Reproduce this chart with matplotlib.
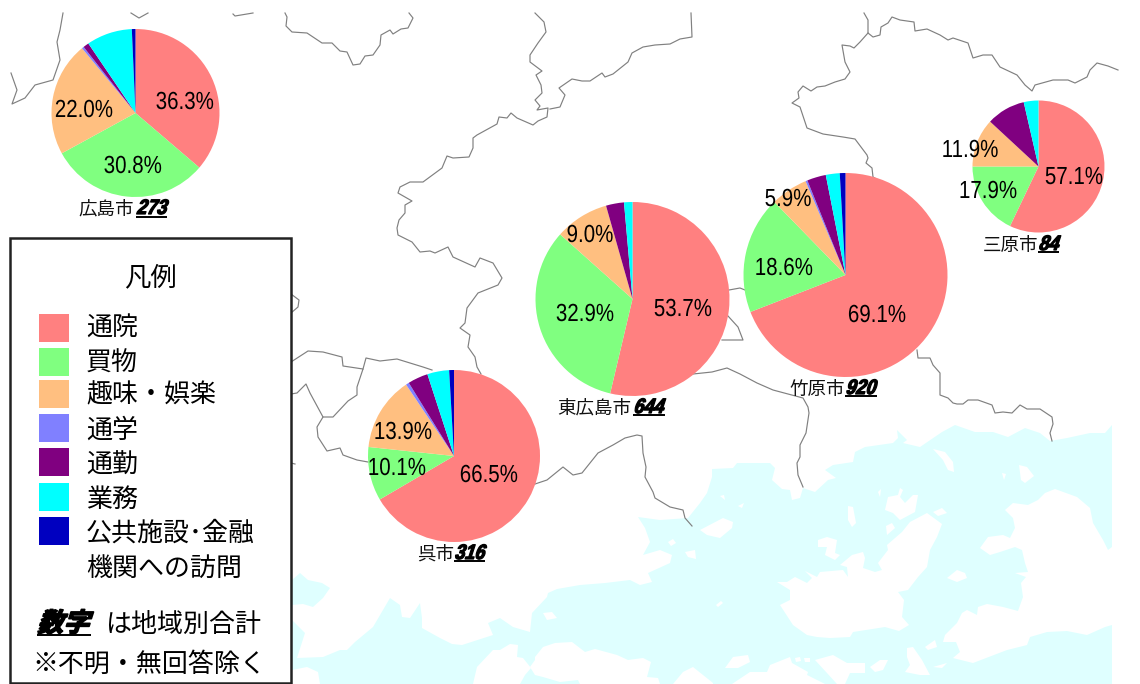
#!/usr/bin/env python3
"""Trip purpose shares by destination city, drawn as pies over a map."""

import matplotlib
matplotlib.use('Agg')
import matplotlib.pyplot as plt
from matplotlib.patches import Polygon, Rectangle
from matplotlib.patheffects import AbstractPathEffect
from matplotlib.transforms import Affine2D

WIDTH, HEIGHT = 1140, 684

JP_FONT  = ['Noto Sans CJK JP', 'DejaVu Sans']
NUM_FONT = ['Liberation Sans', 'DejaVu Sans']

# purposes, clockwise from 12 o'clock
PURPOSES = ['通院', '買物', '趣味・娯楽', '通学', '通勤', '業務', '公共施設･金融']
COLORS   = ['#FF8080', '#80FF80', '#FFBF80', '#8080FF', '#800080', '#00FFFF', '#0000C0']

HIROSHIMA = [36.3, 30.8, 22.0, 0.4, 1.1, 8.8, 0.7]
TAKEHARA  = [69.1, 18.6, 5.9, 0.3, 3.0, 2.2, 0.9]
MIHARA    = [57.1, 17.9, 11.9, 0.0, 9.5, 3.6, 0.0]
HIGASHI   = [53.7, 32.9, 9.0, 0.0, 3.0, 1.4, 0.0]
KURE      = [66.5, 10.1, 13.9, 0.6, 3.8, 4.1, 0.9]

CITY_NAMES  = ['広島市', '竹原市', '三原市', '東広島市', '呉市']
CITY_TOTALS = ['273', '920', '84', '644', '316']

# layout in picture pixels: pie centre x, y, radius
PIE_SPOTS = [(135.5, 113, 84), (845.5, 275, 102), (1038.5, 166.5, 66),
             (632.5, 299, 97), (454, 456, 86)]
# city name left, number left, number right, text centre y, underline y
NAME_SPOTS = [(78, 136, 167, 208, 216.5), (789, 845, 877, 388, 396),
              (983, 1038, 1059, 244, 252), (557, 633, 665, 407, 415),
              (417, 454, 485, 553, 561)]
# the three printed shares of each pie
PCT_SPOTS = [[(185, 100), (133, 164), (84, 108)],
             [(877, 313), (784, 266), (788, 197)],
             [(1074, 175), (988, 189), (970, 148)],
             [(683, 307), (585, 312), (590, 233)],
             [(489, 473), (397, 466), (403, 430)]]

# municipal borders, in pixels
BORDERS = [
    [(285, 13), (287, 17), (286, 26), (292, 32), (307, 33), (322, 43), (332, 43), (340, 51),
     (347, 52), (353, 65), (360, 64), (365, 56), (373, 55), (380, 45), (381, 35), (390, 30),
     (393, 34), (401, 29), (408, 28), (413, 18), (409, 13)],
    [(535, 13), (544, 22), (546, 32), (538, 43), (530, 55), (530, 62), (542, 71), (536, 75),
     (541, 85), (542, 93), (535, 100), (540, 106), (537, 110), (548, 108), (547, 117), (538, 121),
     (533, 125), (517, 118), (511, 113), (507, 118), (499, 117), (497, 124), (477, 135), (473, 138),
     (473, 148), (469, 157), (453, 158), (447, 156), (442, 168), (423, 182), (410, 182), (400, 187),
     (398, 193), (412, 201), (405, 205), (405, 213), (399, 220), (397, 228), (398, 235), (412, 242),
     (420, 252), (430, 251), (435, 253), (448, 247), (453, 257), (475, 267), (480, 258), (493, 263),
     (502, 278), (498, 285), (478, 293), (467, 308), (465, 323), (460, 328), (470, 335), (468, 347),
     (475, 357), (477, 367), (481, 374)],
    [(550, 109), (560, 107), (565, 95), (559, 88), (572, 79), (582, 81), (590, 81), (602, 73),
     (605, 77), (613, 74), (628, 62), (632, 53), (643, 47), (655, 45), (670, 44), (680, 39),
     (692, 37), (691, 13)],
    [(864, 13), (868, 20), (868, 33), (873, 37), (880, 35), (881, 27), (888, 23), (892, 17),
     (900, 20), (914, 22), (915, 31), (927, 29), (940, 35), (948, 40), (953, 38), (968, 43),
     (973, 58), (983, 55), (992, 55), (1000, 67), (1017, 75), (1025, 85), (1032, 91), (1035, 85),
     (1053, 80), (1068, 80), (1075, 83), (1087, 77), (1090, 70), (1097, 63), (1108, 66), (1118, 70)],
    [(868, 33), (860, 42), (854, 48), (850, 46), (842, 45), (845, 62), (850, 72), (845, 79),
     (835, 82), (825, 86), (817, 87), (811, 91), (803, 86), (798, 92), (799, 98), (792, 103),
     (800, 107), (807, 128), (823, 134), (843, 137), (855, 139), (867, 155), (868, 158), (866, 163),
     (872, 168), (873, 177), (878, 180)],
    [(917, 350), (918, 358), (930, 358), (933, 365), (940, 373), (940, 395), (948, 398), (953, 403),
     (957, 404), (963, 404), (968, 400), (978, 400), (992, 405), (995, 413), (1003, 412), (1012, 413),
     (1020, 405), (1027, 409), (1040, 409), (1052, 417), (1053, 424), (1050, 433), (1052, 441)],
    [(693, 374), (712, 372), (727, 368), (740, 374), (757, 383), (773, 390), (803, 398), (808, 407),
     (809, 413), (806, 433), (800, 445), (800, 457), (797, 463), (798, 475), (803, 487)],
    [(729, 290), (740, 288), (750, 292)],
    [(728, 316), (738, 327), (743, 340), (722, 340)],
    [(535, 484), (547, 480), (563, 467), (573, 475), (582, 473), (590, 463), (598, 453), (613, 445),
     (625, 438), (637, 435), (642, 436), (643, 453), (646, 467), (645, 477), (653, 492), (655, 498),
     (670, 507), (683, 510), (685, 518), (692, 526)],
    [(291, 362), (308, 351), (323, 352), (342, 357), (343, 366), (363, 369), (357, 387), (357, 395),
     (348, 401), (333, 417), (323, 417)],
    [(363, 369), (366, 358), (380, 361), (397, 359), (423, 367), (432, 370)],
    [(291, 394), (297, 393), (306, 384), (310, 393), (323, 417), (317, 427), (318, 437), (327, 451),
     (340, 448), (343, 455), (357, 460), (368, 462)],
    [(291, 294), (299, 300), (298, 307), (291, 313)],
    [(291, 463), (295, 464)],
    [(63, 13), (60, 30), (57, 42), (60, 60), (53, 80), (35, 85), (25, 98), (12, 104), (17, 90), (11, 73)],
    [(131, 13), (139, 18), (148, 13)],
    [(233, 14), (235, 16), (253, 13)],
]

SEA = [
    (292, 620), (305, 633), (297, 658), (323, 657), (340, 650), (347, 650), (355, 642), (373, 627),
    (390, 598), (400, 605), (402, 617), (410, 618), (420, 603), (422, 618), (422, 628), (440, 638),
    (452, 644), (462, 645), (493, 635), (488, 623), (500, 618), (513, 627), (530, 632), (532, 613),
    (547, 597), (548, 593), (557, 589), (580, 585), (605, 583), (630, 580), (640, 585), (652, 582),
    (648, 573), (670, 563), (672, 555), (660, 550), (643, 555), (650, 542), (645, 528), (638, 517),
    (660, 520), (688, 518), (700, 503), (707, 493), (712, 477), (712, 469), (733, 468), (737, 463),
    (770, 463), (775, 468), (772, 480), (782, 489), (790, 490), (792, 500), (800, 498), (803, 488),
    (815, 492), (828, 480), (836, 478), (825, 470), (833, 465), (853, 462), (855, 452), (865, 447),
    (893, 443), (898, 438), (897, 430), (907, 440), (903, 443), (920, 447), (942, 432), (955, 425),
    (975, 432), (993, 432), (1008, 437), (1025, 428), (1040, 433), (1050, 441), (1067, 438),
    (1090, 433), (1105, 433), (1112, 425), (1112, 684), (292, 684),
]
SEA_BAY = [(292, 580), (300, 573), (308, 580), (322, 583), (330, 588), (323, 598), (313, 607),
           (303, 604), (292, 605)]

ISLANDS = [
    [(777, 582), (787, 582), (795, 577), (807, 583), (812, 578), (805, 571), (817, 577), (820, 572),
     (843, 570), (848, 577), (847, 567), (840, 565), (852, 555), (863, 552), (865, 558), (863, 568),
     (875, 572), (882, 570), (878, 563), (888, 550), (887, 545), (902, 532), (910, 522), (927, 513),
     (942, 524), (937, 537), (930, 550), (927, 567), (918, 577), (908, 590), (898, 592), (904, 600),
     (902, 617), (909, 625), (899, 631), (885, 627), (853, 632), (850, 637), (830, 638), (817, 637),
     (807, 635), (793, 625), (780, 605), (790, 600), (790, 590)],
    [(1005, 510), (1013, 503), (1028, 505), (1038, 500), (1045, 493), (1055, 489), (1077, 497),
     (1090, 508), (1093, 523), (1103, 540), (1108, 550), (1112, 547), (1112, 625), (1105, 627),
     (1087, 635), (1067, 631), (1047, 632), (1030, 637), (1027, 645), (1007, 650), (973, 663),
     (953, 658), (960, 652), (956, 642), (943, 642), (945, 635), (957, 623), (962, 613), (967, 610),
     (977, 615), (978, 607), (987, 604), (1003, 607), (1018, 611), (1023, 597), (1021, 583),
     (1026, 577), (1015, 573), (1028, 572), (1025, 563), (1022, 550), (1015, 547), (1000, 552),
     (990, 555), (980, 548), (988, 537), (1003, 535), (1010, 538), (1015, 528), (1013, 518)],
    [(885, 510), (888, 497), (898, 495), (900, 488), (903, 490), (900, 497), (905, 503), (913, 495),
     (918, 495), (915, 512), (900, 520), (893, 513)],
    [(933, 512), (942, 508), (947, 513), (938, 516)],
    [(848, 506), (853, 507), (856, 523), (852, 527), (848, 520)],
    [(886, 526), (892, 523), (895, 528), (887, 535)],
    [(818, 540), (827, 537), (837, 540), (835, 553), (840, 555), (835, 560), (825, 555), (827, 547),
     (818, 547)],
    [(933, 449), (945, 452), (953, 462), (954, 472), (948, 470), (943, 460)],
    [(1019, 465), (1027, 467), (1034, 476), (1025, 483), (1021, 480)],
    [(1002, 473), (1006, 474), (1004, 480)],
    [(700, 530), (723, 518), (733, 522), (732, 528), (720, 538), (707, 535)],
    [(738, 506), (744, 503), (742, 508)],
    [(720, 496), (724, 495), (725, 500)],
    [(878, 492), (881, 489), (880, 497)],
    [(947, 578), (957, 570), (965, 573), (967, 578), (957, 582)],
    [(716, 605), (721, 601), (723, 603), (718, 607)],
    [(907, 648), (913, 647), (922, 660), (930, 675), (920, 675), (905, 672), (910, 665), (907, 657)],
    [(925, 647), (935, 640), (937, 647), (928, 650)],
    [(933, 667), (947, 663), (942, 668)],
    [(870, 667), (880, 660), (888, 660), (883, 670), (875, 672)],
    [(815, 660), (833, 655), (847, 663), (865, 663), (865, 673), (850, 673), (845, 684), (837, 684),
     (827, 673)],
    [(732, 684), (750, 672), (767, 672), (770, 665), (790, 657), (792, 663), (808, 672), (807, 675),
     (825, 684)],
    [(725, 668), (733, 657), (748, 655), (750, 662), (738, 668)],
    [(795, 658), (800, 657), (801, 661), (796, 662)],
    [(804, 658), (810, 658), (810, 662), (805, 662)],
    [(473, 684), (477, 667), (493, 650), (500, 650), (510, 644), (518, 645), (517, 657), (523, 658),
     (531, 668), (525, 675), (520, 684)],
    [(535, 657), (543, 647), (555, 643), (572, 642), (585, 652), (595, 649), (617, 655), (628, 660),
     (643, 658), (651, 662), (647, 677), (658, 678), (660, 684), (580, 684), (578, 680), (560, 682),
     (543, 677), (535, 675), (530, 667), (535, 660)],
    [(292, 670), (307, 667), (318, 672), (320, 684), (292, 684)],
    [(673, 684), (683, 672), (693, 667), (713, 683), (713, 684)],
    [(543, 613), (552, 612), (557, 618), (547, 620)],
    [(668, 542), (673, 539), (676, 543), (671, 546)],
    [(685, 552), (695, 550), (696, 559), (688, 557)],
]


class Slanted(AbstractPathEffect):
    """Fake bold italic, the CJK fonts have no oblique face."""

    def __init__(self, angle=18, bold=0.9, squeeze=1.0):
        super().__init__()
        self.angle = angle
        self.bold = bold
        self.squeeze = squeeze

    def draw_path(self, renderer, gc, tpath, affine, rgbFace=None):
        gc.set_linewidth(self.bold)
        gc.set_foreground(rgbFace)
        shape = Affine2D().scale(self.squeeze, 1).skew_deg(self.angle, 0)
        renderer.draw_path(gc, tpath, shape + affine, rgbFace)


class Squeezed(AbstractPathEffect):
    """Narrow the glyphs around the middle of the string, no narrow font here."""

    def __init__(self, squeeze):
        super().__init__()
        self.squeeze = squeeze

    def draw_path(self, renderer, gc, tpath, affine, rgbFace=None):
        xs = tpath.vertices[:, 0]
        mid = (xs.min() + xs.max()) / 2
        shape = Affine2D().translate(-mid, 0).scale(self.squeeze, 1).translate(mid, 0)
        renderer.draw_path(gc, tpath, shape + affine, rgbFace)


def up(points):
    # the axes run upwards so that pies keep their sense, the tracing runs downwards
    return [(x, HEIGHT - y) for x, y in points]


def draw_map(ax):
    ax.add_patch(Polygon(up(SEA), closed=True, fc='#DFFFFF', ec='none', zorder=1))
    ax.add_patch(Polygon(up(SEA_BAY), closed=True, fc='#DFFFFF', ec='none', zorder=1))
    for island in ISLANDS:
        ax.add_patch(Polygon(up(island), closed=True, fc='white', ec='none', zorder=2))
    for border in BORDERS:
        xs, ys = zip(*up(border))
        ax.plot(xs, ys, color='#808080', lw=0.85, zorder=3)


def draw_pie(ax, shares, spot, pct_spots):
    x, y, r = spot
    wedges, _ = ax.pie(shares, colors=COLORS, startangle=90, counterclock=False,
                       center=(x, HEIGHT - y), radius=r, wedgeprops={'linewidth': 0})
    for w in wedges:
        w.set_zorder(4)
    for val, (tx, ty) in zip(shares, pct_spots):
        ax.text(tx, HEIGHT - ty - 2, f'{val:.1f}%', family=NUM_FONT, fontsize=17.8,
                ha='center', va='center', color='black', zorder=6,
                path_effects=[Squeezed(0.83)])


def draw_name(ax, name, total, spot):
    name_x, num_x, num_end, y, line_y = spot
    ax.text(name_x, HEIGHT - y - 1.5, name, family=JP_FONT, fontsize=13.3, ha='left', va='center',
            color='#111111', zorder=6)
    ax.text(num_x, HEIGHT - y - 0.5, total, family=NUM_FONT, fontsize=15, fontweight='bold',
            ha='left', va='center', color='black', zorder=6, path_effects=[Slanted(squeeze=0.86)])
    ax.plot([num_x, num_end], [HEIGHT - line_y] * 2, color='black', lw=1.4, zorder=6,
            solid_capstyle='butt')


def draw_legend(ax):
    ax.add_patch(Rectangle((10, HEIGHT - 683), 281, 445, fc='white', ec='#222222', lw=1.8, zorder=7))
    ax.text(150, HEIGHT - 278, '凡例', family=JP_FONT, fontsize=19, ha='center', va='center', zorder=8)

    box_tops = [314, 348, 380, 414, 448, 483, 517]
    text_ys  = [328, 363, 395, 430, 465, 499, 533]
    for name, color, top, ty in zip(PURPOSES, COLORS, box_tops, text_ys):
        ax.add_patch(Rectangle((39, HEIGHT - top - 28), 30, 28, fc=color, ec='none', zorder=8))
        ax.text(86, HEIGHT - ty, name, family=JP_FONT, fontsize=18.7, ha='left', va='center', zorder=8)
    ax.text(86, HEIGHT - 568, '機関への訪問', family=JP_FONT, fontsize=18.7, ha='left', va='center', zorder=8)

    ax.text(37, HEIGHT - 624, '数字', family=JP_FONT, fontsize=18.7, fontweight='bold', ha='left',
            va='center', zorder=8, path_effects=[Slanted(bold=1.2)])
    ax.plot([37, 91], [HEIGHT - 635] * 2, color='black', lw=1.4, zorder=8, solid_capstyle='butt')
    ax.text(105, HEIGHT - 624, 'は地域別合計', family=JP_FONT, fontsize=18.7, ha='left', va='center', zorder=8)
    ax.text(32, HEIGHT - 664, '※不明・無回答除く', family=JP_FONT, fontsize=18.7, ha='left', va='center', zorder=8)


def main():
    fig = plt.figure(figsize=(WIDTH / 100, HEIGHT / 100), dpi=100)
    ax = fig.add_axes([0, 0, 1, 1])

    draw_map(ax)
    all_shares = [HIROSHIMA, TAKEHARA, MIHARA, HIGASHI, KURE]
    for shares, spot, pct_spots in zip(all_shares, PIE_SPOTS, PCT_SPOTS):
        draw_pie(ax, shares, spot, pct_spots)
    for name, total, spot in zip(CITY_NAMES, CITY_TOTALS, NAME_SPOTS):
        draw_name(ax, name, total, spot)
    draw_legend(ax)

    # ax.pie resets the limits, so fix them last
    ax.set_xlim(0, WIDTH)
    ax.set_ylim(0, HEIGHT)
    ax.set_aspect('auto')
    ax.axis('off')
    fig.savefig('out.png', dpi=100)
    plt.close(fig)


if __name__ == '__main__':
    main()
